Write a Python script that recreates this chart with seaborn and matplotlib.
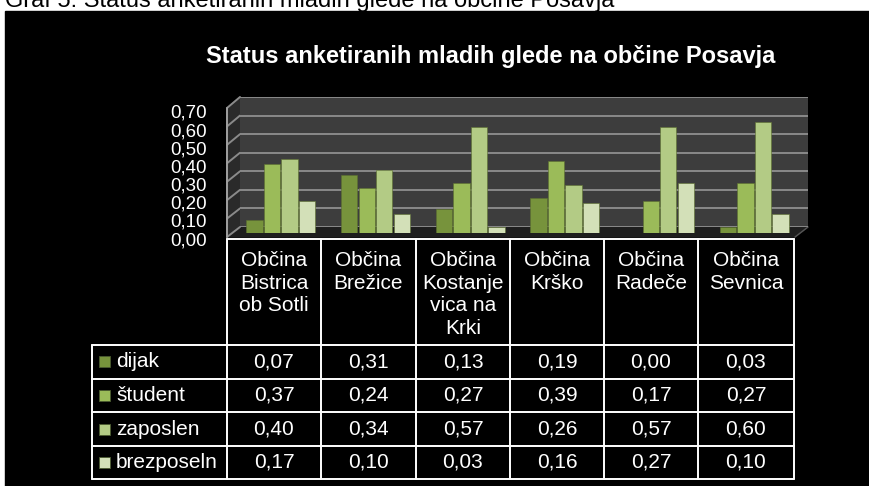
import matplotlib
matplotlib.use("Agg")
import matplotlib.pyplot as plt
import pandas as pd
import seaborn as sns
from matplotlib.patches import Polygon, Rectangle

# Data
obcine = ['Občina\nBistrica\nob Sotli', 'Občina\nBrežice', 'Občina\nKostanje\nvica na\nKrki',
          'Občina\nKrško', 'Občina\nRadeče', 'Občina\nSevnica']
statusi = ['dijak', 'študent', 'zaposlen', 'brezposeln']
dijak = [0.07, 0.31, 0.13, 0.19, 0.00, 0.03]
student = [0.37, 0.24, 0.27, 0.39, 0.17, 0.27]
zaposlen = [0.40, 0.34, 0.57, 0.26, 0.57, 0.60]
brezposeln = [0.17, 0.10, 0.03, 0.16, 0.27, 0.10]
yticks = [0.0, 0.1, 0.2, 0.3, 0.4, 0.5, 0.6, 0.7]

series = [dijak, student, zaposlen, brezposeln]
colors = ['#77933c', '#9bbb59', '#b3cb85', '#d3e0b8']

rows = []
for name, vals in zip(statusi, series):
    for ob, v in zip(obcine, vals):
        rows.append({'Občina': ob, 'Status': name, 'Delež': v})
df = pd.DataFrame(rows)

sns.set_style("dark")
plt.rcParams['font.family'] = ['Liberation Sans', 'DejaVu Sans']

W, H = 870, 486
fig = plt.figure(figsize=(W / 100, H / 100), dpi=100, facecolor='white')


def px_rect(x0, y0, x1, y1):
    return [x0 / W, 1 - y1 / H, (x1 - x0) / W, (y1 - y0) / H]


# overlay in pixel coordinates for background, walls and table
ov = fig.add_axes([0, 0, 1, 1], zorder=0)
ov.set_xlim(0, W)
ov.set_ylim(H, 0)
ov.axis('off')
ov.add_patch(Rectangle((5, 11), W - 5, H - 11, color='black'))
# caption of the page, cut at the top edge as in the source
ov.text(5, 7.5, 'Graf 5: Status anketiranih mladih glede na občine Posavja',
        fontsize=17, color='black', va='baseline', ha='left')
ov.text(491, 57, 'Status anketiranih mladih glede na občine Posavja',
        fontsize=17, fontweight='bold', color='white', ha='center', va='center')

# 3D-ish side wall and floor
ov.add_patch(Polygon([(227, 108), (240, 97), (240, 227), (227, 237)],
                     closed=True, color='#2a2a2a'))
for i in range(len(yticks)):
    yb = 227 - i * 130 / 7
    yf = 237 - i * 129 / 7
    ov.plot([227, 240], [yf, yb], color='#8a8a8a', lw=1.4)
ov.plot([227, 227], [108, 237], color='#a0a0a0', lw=1.4)
ov.add_patch(Polygon([(227, 237), (240, 227), (808, 227), (795, 237)],
                     closed=True, color='#1e1e1e'))
ov.plot([795, 808], [237, 227], color='#555555', lw=1)

# back wall with gridlines
wall = fig.add_axes(px_rect(240, 97, 808, 227), zorder=1)
wall.set_facecolor('#3d3d3d')
wall.set_ylim(0, 0.7)
wall.set_xlim(0, 1)
wall.set_yticks(yticks)
wall.set_xticks([])
wall.tick_params(left=False, labelleft=False)
wall.grid(axis='y', color='#8a8a8a', lw=1.4)
for s in wall.spines.values():
    s.set_visible(False)

# bars (mid-depth plane)
ax = fig.add_axes(px_rect(233.5, 103, 801.5, 233), zorder=2)
ax.patch.set_alpha(0)
sns.barplot(data=df, x='Občina', y='Delež', hue='Status', palette=colors,
            saturation=1, width=0.74, gap=0.06, legend=False, ax=ax,
            edgecolor='#5c7030', linewidth=0.4)
ax.set_xlim(-0.5, 5.5)
ax.set_ylim(0, 0.7)
ax.set_xticks([])
ax.set_yticks([])
ax.set_xlabel('')
ax.set_ylabel('')
ax.grid(False)
for s in ax.spines.values():
    s.set_visible(False)

# value axis labels on the front plane
fr = fig.add_axes(px_rect(227, 111.5, 795, 238.5), zorder=3, frameon=False)
fr.patch.set_alpha(0)
fr.set_ylim(0, 0.7)
fr.set_yticks(yticks)
fr.set_yticklabels([f'{t:.2f}'.replace('.', ',') for t in yticks])
fr.set_xticks([])
fr.tick_params(axis='y', length=0, pad=14.4, labelsize=13.5, labelcolor='white')
fr.grid(False)

# data table
col_x = [92, 227, 321, 416, 510, 604, 698, 794]
row_y = [239, 345, 378.5, 412.3, 446, 478.5]
lc, lw = 'white', 1.4
ov.plot([col_x[1], col_x[-1]], [row_y[0], row_y[0]], color=lc, lw=lw)
for y in row_y[1:]:
    ov.plot([col_x[0], col_x[-1]], [y, y], color=lc, lw=lw)
ov.plot([col_x[0], col_x[0]], [row_y[1], row_y[-1]], color=lc, lw=lw)
for x in col_x[1:]:
    ov.plot([x, x], [row_y[0], row_y[-1]], color=lc, lw=lw)

for j, ob in enumerate(obcine):
    cx = (col_x[j + 1] + col_x[j + 2]) / 2
    ov.text(cx, 251, ob, color='white', fontsize=15, ha='center', va='top',
            linespacing=1.24)

for i, (name, vals) in enumerate(zip(statusi, series)):
    cy = (row_y[i + 1] + row_y[i + 2]) / 2
    ov.add_patch(Rectangle((99, cy - 5.5), 11, 11, facecolor=colors[i],
                           edgecolor='#4a5a30', lw=0.6))
    ov.text(116, cy, name, color='white', fontsize=15, ha='left', va='center')
    for j, v in enumerate(vals):
        cx = (col_x[j + 1] + col_x[j + 2]) / 2
        ov.text(cx, cy, f'{v:.2f}'.replace('.', ','), color='white',
                fontsize=15, ha='center', va='center')

fig.savefig('out.png', dpi=100, facecolor='white')
